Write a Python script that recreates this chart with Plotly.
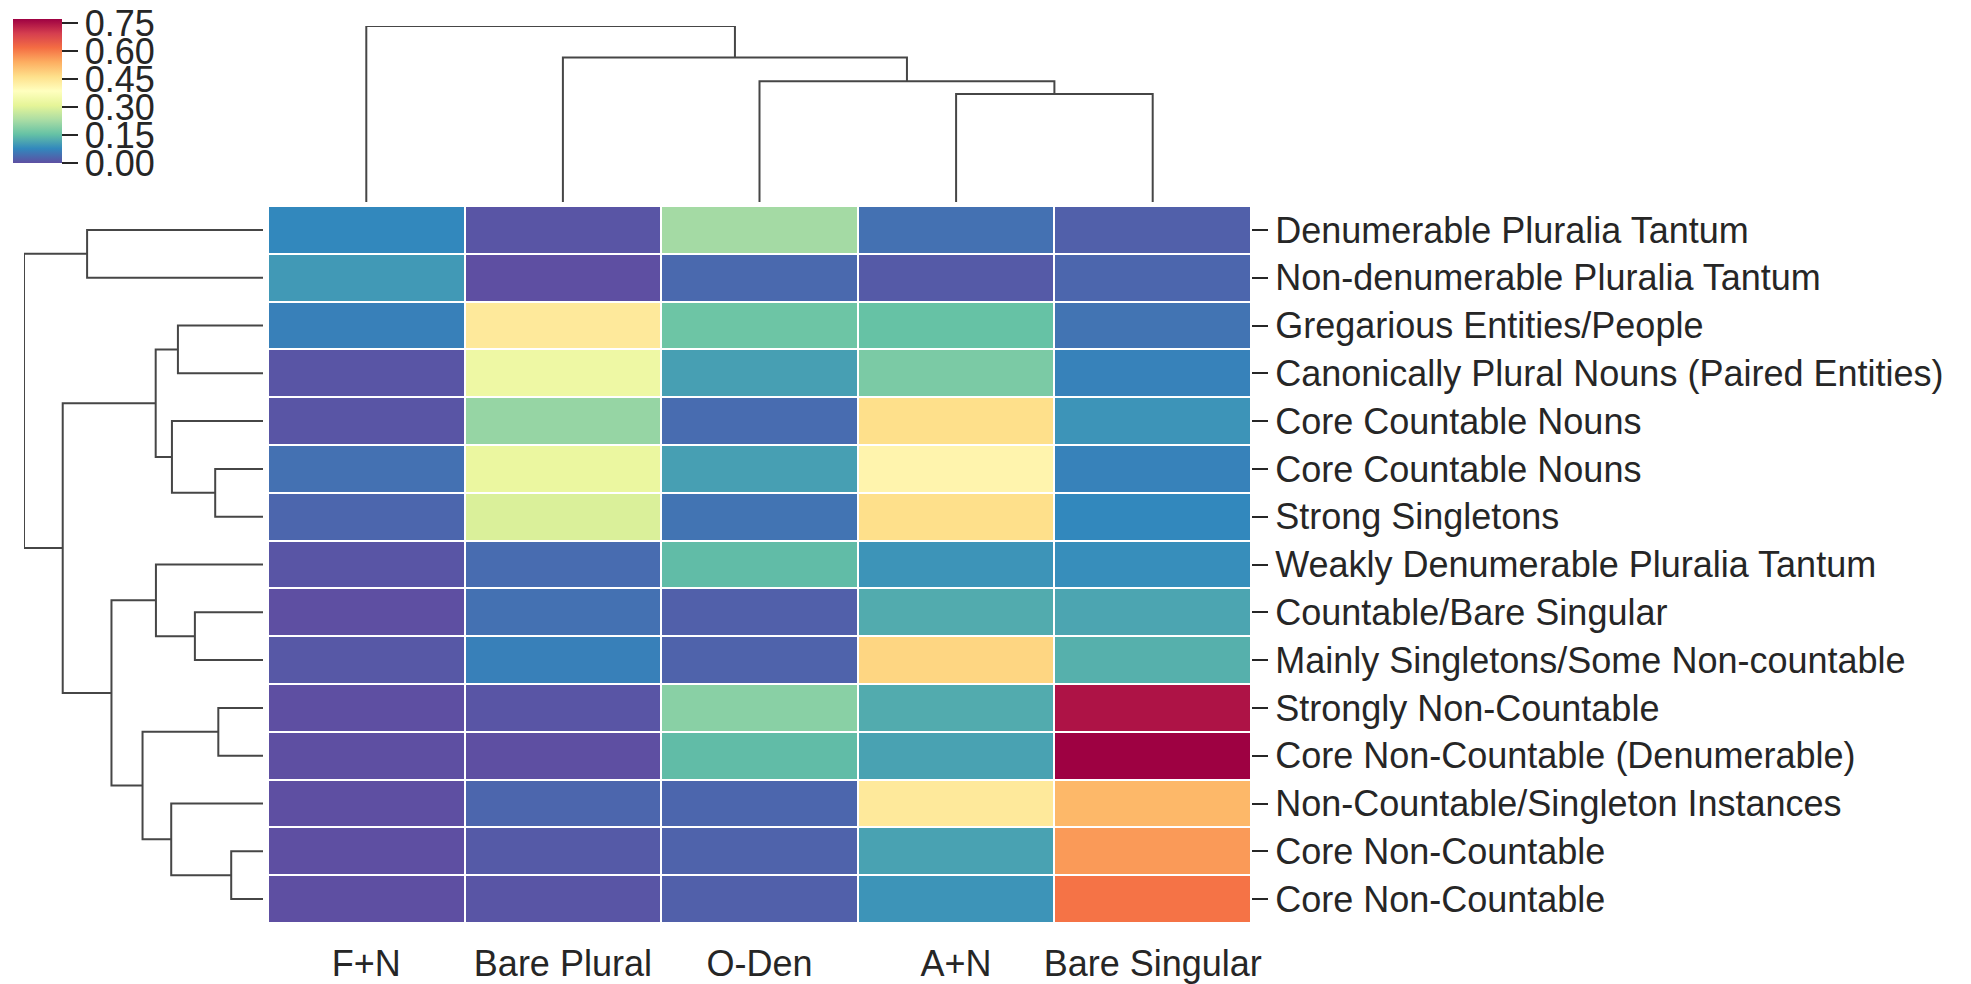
import plotly.graph_objects as go

# ---------------- data ----------------
col_labels = ["F+N", "Bare Plural", "O-Den", "A+N", "Bare Singular"]
row_labels = [
    "Denumerable Pluralia Tantum",
    "Non-denumerable Pluralia Tantum",
    "Gregarious Entities/People",
    "Canonically Plural Nouns (Paired Entities)",
    "Core Countable Nouns",
    "Core Countable Nouns",
    "Strong Singletons",
    "Weakly Denumerable Pluralia Tantum",
    "Countable/Bare Singular",
    "Mainly Singletons/Some Non-countable",
    "Strongly Non-Countable",
    "Core Non-Countable (Denumerable)",
    "Non-Countable/Singleton Instances",
    "Core Non-Countable",
    "Core Non-Countable",
]
f_n = [0.077, 0.100, 0.066, 0.008, 0.008, 0.046, 0.031, 0.008, 0.000, 0.012,
       0.000, 0.000, 0.000, 0.000, 0.000]
bare_plural = [0.008, 0.000, 0.440, 0.332, 0.208, 0.324, 0.293, 0.039, 0.046, 0.066,
               0.008, 0.000, 0.031, 0.015, 0.008]
o_den = [0.224, 0.035, 0.162, 0.108, 0.039, 0.108, 0.050, 0.147, 0.023, 0.027,
         0.193, 0.147, 0.031, 0.027, 0.023]
a_n = [0.046, 0.015, 0.154, 0.178, 0.463, 0.413, 0.463, 0.093, 0.124, 0.479,
       0.124, 0.112, 0.440, 0.112, 0.093]
bare_singular = [0.023, 0.031, 0.050, 0.069, 0.093, 0.069, 0.077, 0.085, 0.116, 0.131,
                 0.749, 0.772, 0.525, 0.564, 0.610]

# linkage (node ids continue after leaves), heights normalised to root = 1
row_merges = [
    (0, 1, 0.736),     # 15
    (2, 3, 0.356),     # 16
    (5, 6, 0.200),     # 17
    (4, 17, 0.381),    # 18
    (16, 18, 0.449),   # 19
    (8, 9, 0.285),     # 20
    (7, 20, 0.448),    # 21
    (10, 11, 0.187),   # 22
    (13, 14, 0.133),   # 23
    (12, 23, 0.384),   # 24
    (22, 24, 0.504),   # 25
    (21, 25, 0.634),   # 26
    (19, 26, 0.838),   # 27
    (15, 27, 1.000),   # 28
]
col_merges = [
    (3, 4, 0.613),     # 5
    (2, 5, 0.686),     # 6
    (1, 6, 0.821),     # 7
    (0, 7, 1.000),     # 8
]

spectral_r = [
    [0.0, "rgb(94,79,162)"], [0.1, "rgb(50,136,189)"], [0.2, "rgb(102,194,165)"],
    [0.3, "rgb(171,221,164)"], [0.4, "rgb(230,245,152)"], [0.5, "rgb(255,255,191)"],
    [0.6, "rgb(254,224,139)"], [0.7, "rgb(253,174,97)"], [0.8, "rgb(244,109,67)"],
    [0.9, "rgb(213,62,79)"], [1.0, "rgb(158,1,66)"],
]


def dendro_segments(n_leaves, merges):
    pos = {i: float(i) for i in range(n_leaves)}
    hgt = {i: 0.0 for i in range(n_leaves)}
    ps, hs = [], []
    for k, (a, b, h) in enumerate(merges):
        node = n_leaves + k
        ps += [pos[a], pos[a], pos[b], pos[b], None]
        hs += [hgt[a], h, h, hgt[b], None]
        pos[node] = (pos[a] + pos[b]) / 2
        hgt[node] = h
    return ps, hs


W, H = 1971, 984
hx0, hx1 = 268 / W, 1251 / W
hy0, hy1 = 1 - 923 / H, 1 - 206 / H
TXT = "#262626"
FONT = "Liberation Sans, Arial, sans-serif"
FS = 36

n_rows = len(row_labels)
z = [list(r) for r in zip(f_n, bare_plural, o_den, a_n, bare_singular)]

fig = go.Figure()
fig.add_trace(go.Heatmap(
    z=z, x=list(range(len(col_labels))), y=list(range(n_rows)),
    colorscale=spectral_r, zmin=0.0, zmax=0.772,
    xgap=2, ygap=2, hoverongaps=False,
    colorbar=dict(
        x=13 / W, xanchor="left", xpad=0, y=1 - 19 / H, yanchor="top", ypad=0,
        lenmode="pixels", len=144, thicknessmode="pixels", thickness=49,
        outlinewidth=0, ticks="outside", ticklen=16, tickwidth=2, tickcolor=TXT,
        tick0=0, dtick=0.15, tickformat=".2f",
        tickfont=dict(size=FS, color=TXT, family=FONT),
    ),
))

cp, ch = dendro_segments(len(col_labels), col_merges)
fig.add_trace(go.Scatter(x=cp, y=ch, mode="lines", xaxis="x2", yaxis="y2",
                         line=dict(color="rgb(70,70,70)", width=2), hoverinfo="skip",
                         showlegend=False))
rp, rh = dendro_segments(n_rows, row_merges)
fig.add_trace(go.Scatter(x=rh, y=rp, mode="lines", xaxis="x3", yaxis="y3",
                         line=dict(color="rgb(70,70,70)", width=2), hoverinfo="skip",
                         showlegend=False))

fig.update_layout(
    width=W, height=H, margin=dict(l=0, r=0, t=0, b=0, autoexpand=False),
    paper_bgcolor="white", plot_bgcolor="white", showlegend=False,
    font=dict(family=FONT, size=FS, color=TXT),
    xaxis=dict(domain=[hx0, hx1], range=[-0.5, 4.5], tickvals=list(range(5)),
               ticktext=col_labels, ticks="outside", ticklen=9, tickcolor="rgba(0,0,0,0)",
               showgrid=False, zeroline=False, showline=False, automargin=False,
               tickfont=dict(size=FS, color=TXT, family=FONT)),
    yaxis=dict(domain=[hy0, hy1], range=[n_rows - 0.5, -0.5], side="right",
               tickvals=list(range(n_rows)), ticktext=row_labels,
               ticks="outside", ticklen=16, tickwidth=2, tickcolor=TXT,
               showgrid=False, zeroline=False, showline=False, automargin=False,
               tickfont=dict(size=FS, color=TXT, family=FONT)),
    xaxis2=dict(domain=[hx0, hx1], range=[-0.5, 4.5], anchor="y2", visible=False,
                automargin=False),
    yaxis2=dict(domain=[1 - 202 / H, 1 - 26 / H], range=[0, 1], anchor="x2", visible=False,
                automargin=False),
    xaxis3=dict(domain=[24 / W, 263 / W], range=[1, 0], anchor="y3", visible=False,
                automargin=False),
    yaxis3=dict(domain=[hy0, hy1], range=[n_rows - 0.5, -0.5], anchor="x3", visible=False,
                automargin=False),
)

fig.write_html("out.html", config={"displayModeBar": False},
               post_script="document.body.style.margin='0';document.body.style.overflow='hidden';")
